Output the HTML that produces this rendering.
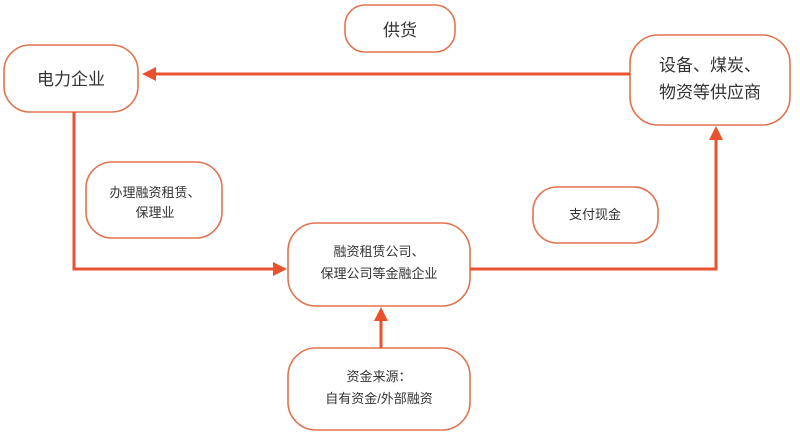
<!DOCTYPE html>
<html><head><meta charset="utf-8"><style>
body{margin:0;width:800px;height:435px;background:#fff;overflow:hidden}
svg text{font-family:"Liberation Sans","Noto Sans CJK SC",sans-serif;fill:#333;text-anchor:middle}
</style></head><body>
<svg width="800" height="435" viewBox="0 0 800 435">
<g fill="#fff" stroke="#e2734f" stroke-width="1.6">
<rect x="345" y="5" width="110" height="47" rx="20"/>
<rect x="4" y="45" width="134" height="67" rx="26"/>
<rect x="630" y="35" width="160" height="90" rx="28"/>
<rect x="86" y="162" width="136" height="76" rx="26"/>
<rect x="533" y="187" width="125" height="56" rx="24"/>
<rect x="288" y="223" width="182" height="83" rx="28"/>
<rect x="288" y="348" width="182" height="82" rx="28"/>
</g>
<g stroke="#e8522f" stroke-width="3" fill="none">
<line x1="630" y1="74" x2="152" y2="74"/>
<polyline points="74,112 74,269 274,269"/>
<polyline points="470,269 716,269 716,138"/>
<line x1="381" y1="348" x2="381" y2="320"/>
</g>
<g fill="#e8522f">
<polygon points="142,74 156,67 156,81"/>
<polygon points="287,269 273,262 273,276"/>
<polygon points="716,126 709,140 723,140"/>
<polygon points="381,307 374,321 388,321"/>
</g>
<text x="400" y="36" font-size="17">供货</text>
<text x="71" y="85" font-size="17">电力企业</text>
<text x="710" y="71" font-size="17">设备、煤炭、</text>
<text x="710" y="98" font-size="17">物资等供应商</text>
<text x="155" y="197" font-size="13">办理融资租赁、</text>
<text x="155" y="217" font-size="13">保理业</text>
<text x="595" y="219" font-size="13">支付现金</text>
<text x="379" y="256" font-size="13">融资租赁公司、</text>
<text x="379" y="278" font-size="13">保理公司等金融企业</text>
<text x="379" y="381" font-size="13">资金来源：</text>
<text x="379" y="403" font-size="13">自有资金/外部融资</text>
</svg>
</body></html>
